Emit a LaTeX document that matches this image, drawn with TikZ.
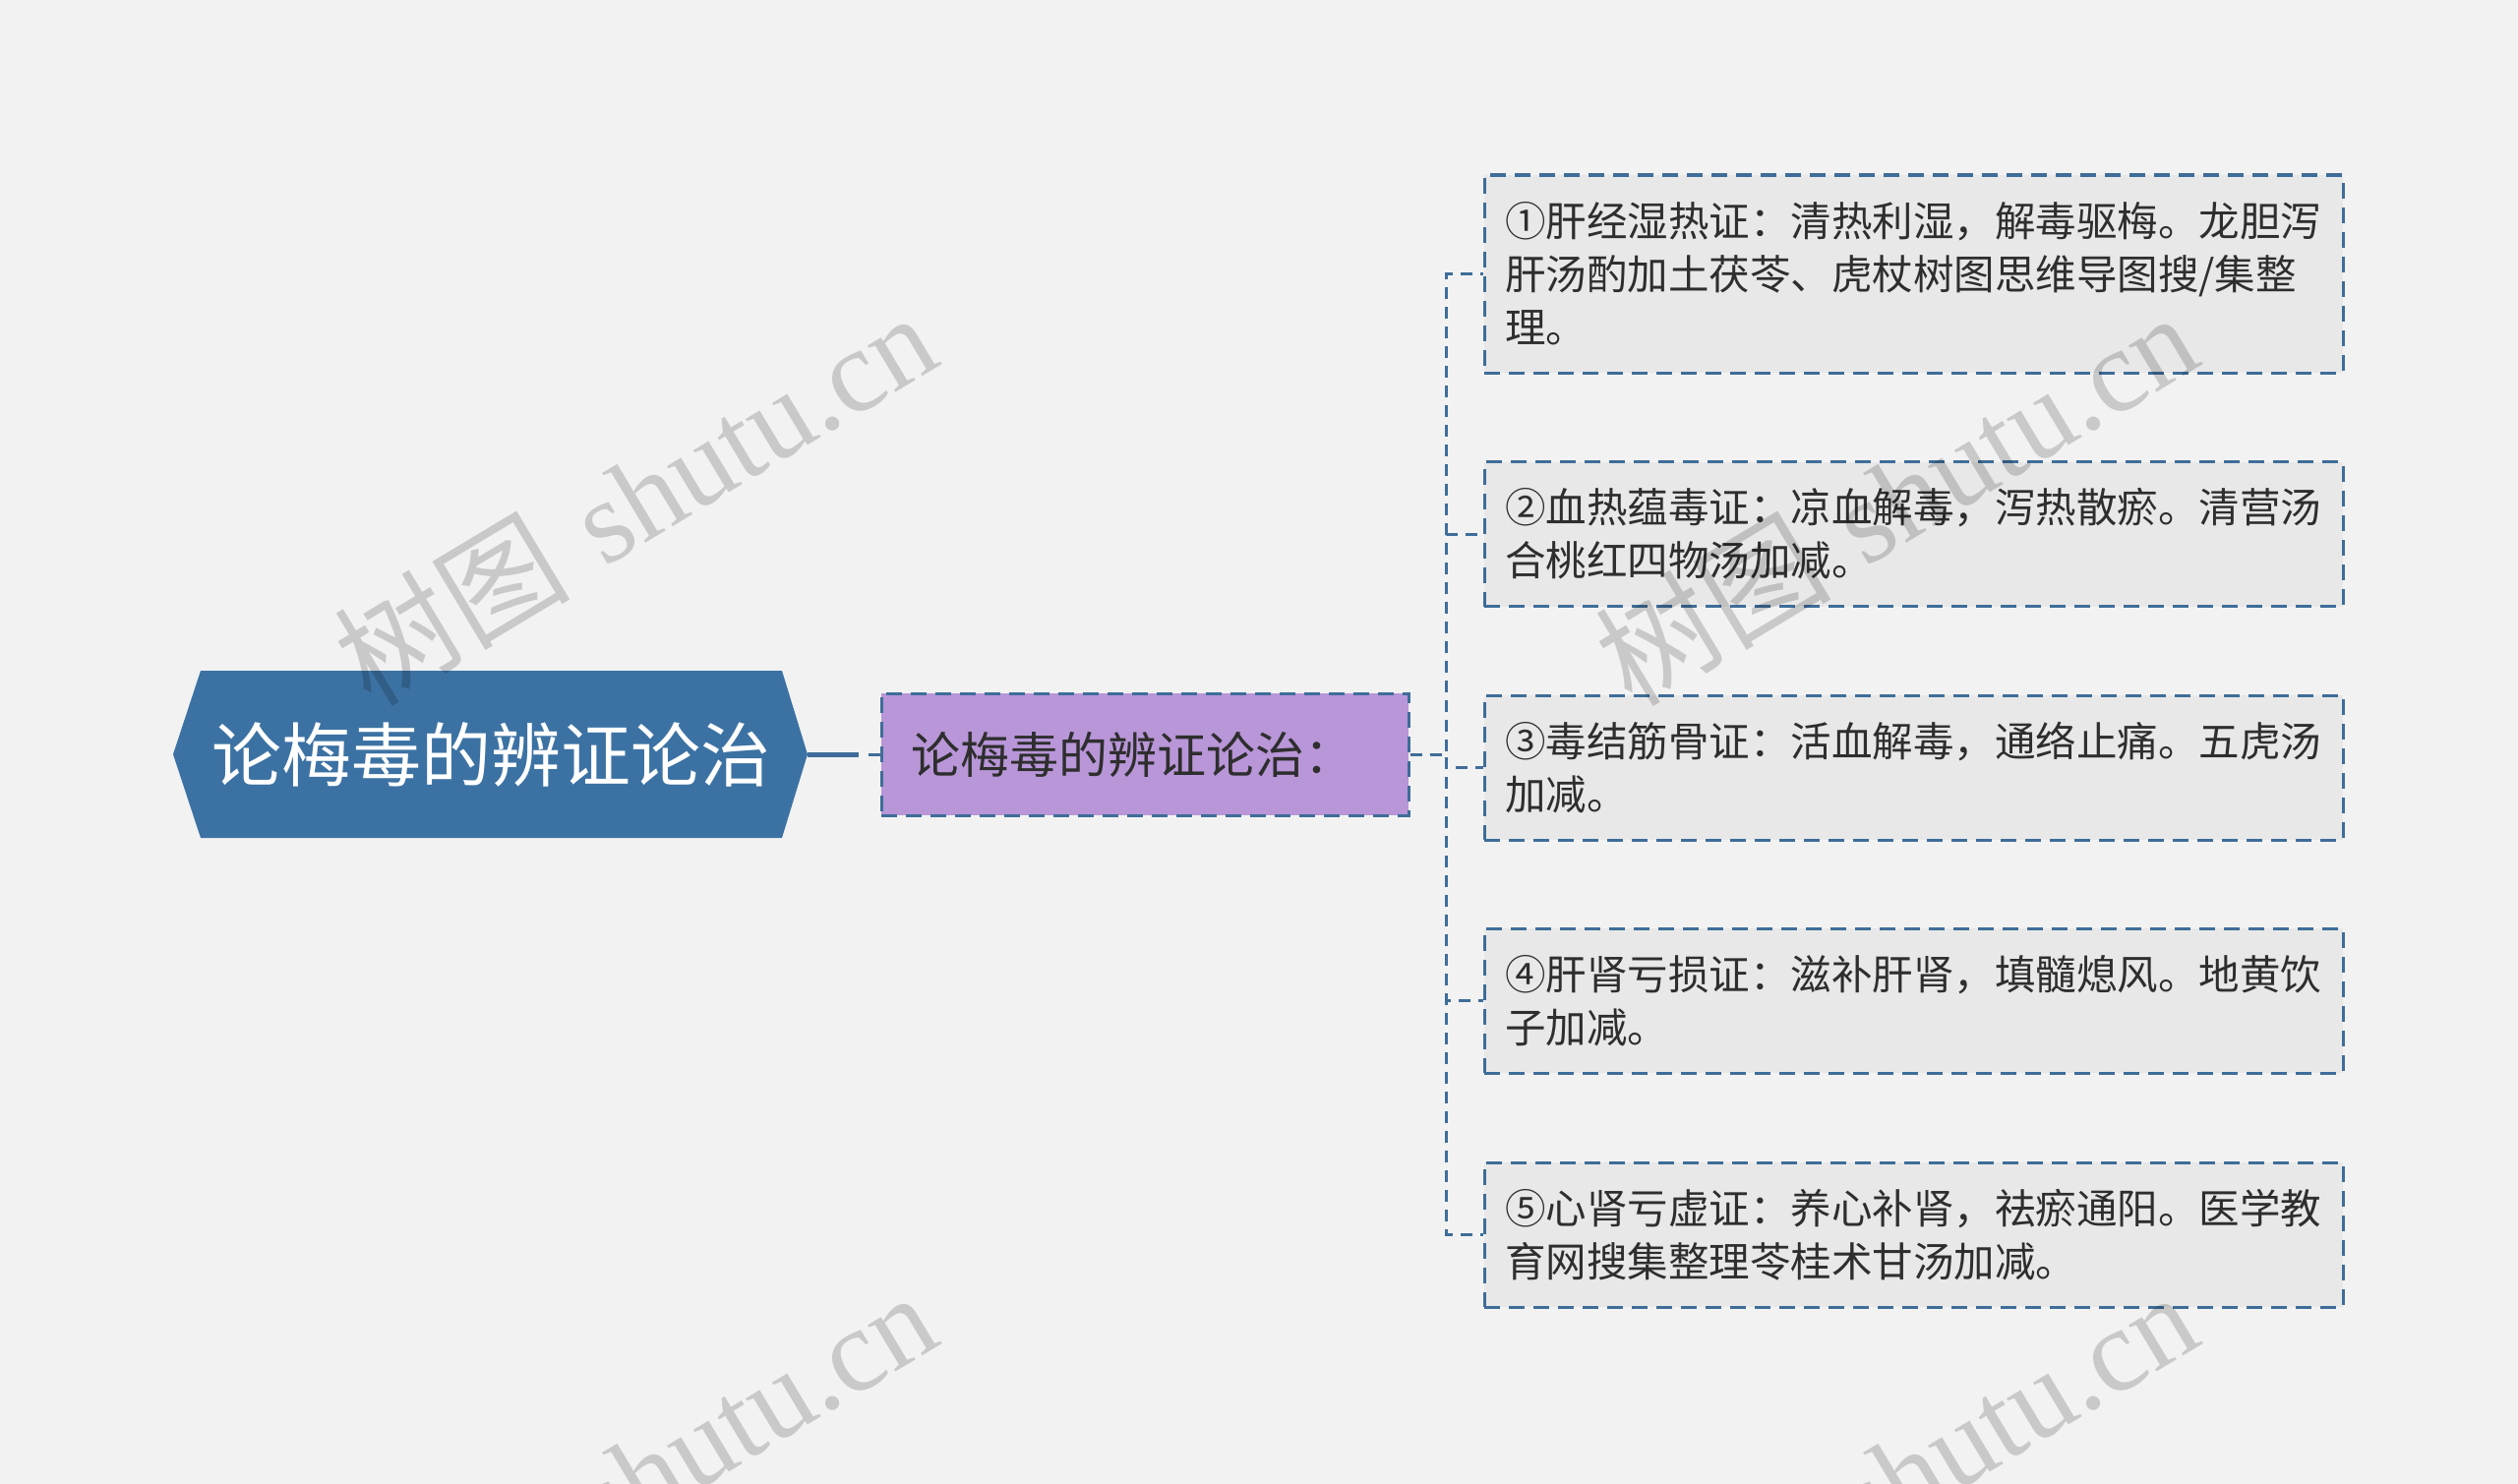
\documentclass[tikz,border=0pt]{standalone}
\usepackage{fontspec}
\newfontfamily\cjk{Noto Sans CJK SC}
\newfontfamily\wmserif{Liberation Serif}
\usetikzlibrary{calc}
\definecolor{bgcol}{HTML}{F2F2F2}
\definecolor{rootblue}{HTML}{3C72A3}
\definecolor{lineblue}{HTML}{3E6D99}
\definecolor{subpurple}{HTML}{B896D8}
\definecolor{leafgray}{HTML}{E8E8E8}
\definecolor{txt}{HTML}{2E2E2E}

\begin{document}
\begin{tikzpicture}[x=1pt,y=-1pt,
  rootnode/.style={minimum width=591pt,minimum height=170pt,inner sep=0pt,text=white,font=\cjk\fontsize{71}{80}\selectfont},
  subnode/.style={draw=lineblue,line width=3pt,dash pattern=on 16pt off 9pt,fill=subpurple,text=txt,text width=476pt,inner xsep=30pt,minimum height=124pt,align=left,font=\cjk\fontsize{50}{60}\selectfont},
  leaf/.style={draw=lineblue,line width=3pt,dash pattern=on 16pt off 9pt,fill=leafgray,text=txt,text width=831pt,inner xsep=21pt,minimum height=147pt,align=left,font=\cjk\fontsize{41.5}{54}\selectfont},
  link/.style={lineblue,line width=3pt,dash pattern=on 12pt off 8pt},
  wmark/.style={rotate=31,text=black,text opacity=0.17,font=\fontsize{120}{120}\selectfont}]

\useasboundingbox (0,0) rectangle (2560,1509);
\fill[bgcol] (0,0) rectangle (2560,1509);

% root
\coordinate (RL) at (176,767);
\coordinate (RR) at (821,767);
\fill[rootblue] (RL) -- (204,682) -- (795,682) -- (RR) -- (795,852) -- (204,852) -- cycle;
\node[rootnode] (root) at (499.5,767) {论梅毒的辨证论治};

\node[subnode] (sub) at (1164,767) {论梅毒的辨证论治：};

\node[leaf,minimum height=201pt] (leaf1) at (1945.5,278.5) {①肝经湿热证：清热利湿，解毒驱梅。龙胆泻\\肝汤酌加土茯苓、虎杖树图思维导图搜/集整\\理。};
\node[leaf] (leaf2) at (1945.5,543) {②血热蕴毒证：凉血解毒，泻热散瘀。清营汤\\合桃红四物汤加减。};
\node[leaf] (leaf3) at (1945.5,780.5) {③毒结筋骨证：活血解毒，通络止痛。五虎汤\\加减。};
\node[leaf] (leaf4) at (1945.5,1017.5) {④肝肾亏损证：滋补肝肾，填髓熄风。地黄饮\\子加减。};
\node[leaf] (leaf5) at (1945.5,1255.5) {⑤心肾亏虚证：养心补肾，祛瘀通阳。医学教\\育网搜集整理苓桂术甘汤加减。};

\draw[lineblue,line width=5pt] (RR) -- (873,767) coordinate (J);
\draw[lineblue,line width=3pt] ($(J)+(10,0)$) -- (sub.west);
\foreach \i in {1,...,5}
  \draw[link] (sub.east) -- ++(37,0) |- (leaf\i.west);

% watermarks
\foreach \x/\y [count=\k] in {645/506,1927/506,645/1502,1927/1502}
  \node[wmark] (wm\k) at (\x,\y) {{\cjk 树图} {\wmserif shutu.cn}};

\end{tikzpicture}
\end{document}
